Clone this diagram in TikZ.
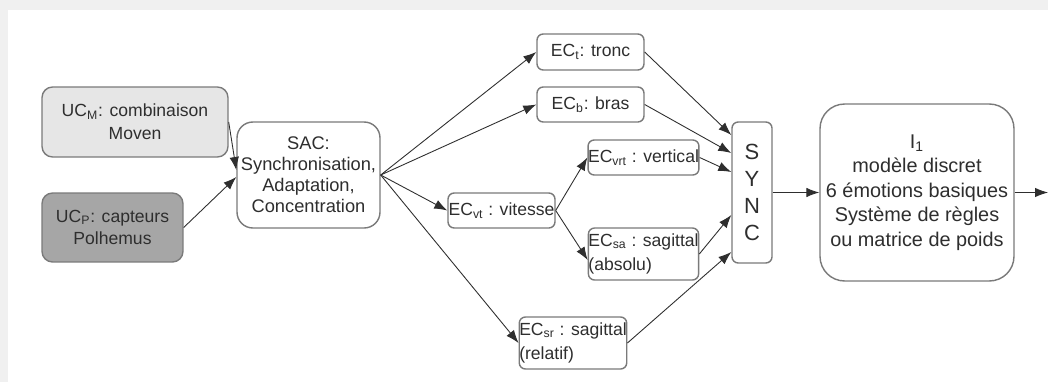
\documentclass[tikz,border=0pt]{standalone}
\usepackage{fontspec}
\setmainfont{Liberation Sans}
\usetikzlibrary{arrows.meta}
\definecolor{lightfill}{HTML}{E6E6E6}
\definecolor{darkfill}{HTML}{A6A6A6}
\definecolor{boxline}{HTML}{7A7A7A}
\definecolor{txt}{HTML}{2E2E2E}
\definecolor{edgebg}{HTML}{F0F0F0}

\begin{document}
\begin{tikzpicture}[x=0.02cm, y=-0.02cm, >={Latex[length=2.6mm,width=1.9mm]},
		bloc/.style={draw=boxline, line width=0.8pt, rounded corners=3.5pt, inner sep=0pt, text=txt, align=center},
		petit/.style={font=\fontsize{10}{12}\selectfont},
		fleche/.style={->, draw=txt, line width=0.5pt}]
	\useasboundingbox (0,0) rectangle (1048,382);
	\fill[edgebg] (0,0) rectangle (1048,382);
	\fill[white] (8,10) rectangle (1048,382);

	% sources
	\node[bloc, fill=lightfill, rounded corners=6pt, minimum width=3.72cm, minimum height=1.4cm, font=\fontsize{10}{13}\selectfont] (ucm) at (135,122) {UC\textsubscript{M}: combinaison\\Moven};
	\node[bloc, fill=darkfill, rounded corners=6pt, minimum width=2.82cm, minimum height=1.38cm, font=\fontsize{10}{13}\selectfont] (ucp) at (112.5,227.5) {UC\textsubscript{P}: capteurs\\Polhemus};
	\node[bloc, rounded corners=9pt, minimum width=2.86cm, minimum height=2.12cm, font=\fontsize{10.4}{12}\selectfont] (sac) at (308.5,175) {SAC:\\Synchronisation,\\Adaptation,\\Concentration};

	% extracteurs
	\node[bloc, petit, minimum width=2.14cm, minimum height=0.72cm] (ect) at (590.5,52) {EC\textsubscript{t}: tronc};
	\node[bloc, petit, minimum width=2.14cm, minimum height=0.7cm] (ecb) at (590.5,104.5) {EC\textsubscript{b}: bras};
	\node[bloc, petit, minimum width=2.14cm, minimum height=0.7cm] (ecvrt) at (643.5,157.5) {EC\textsubscript{vrt} : vertical};
	\node[bloc, petit, minimum width=2.14cm, minimum height=0.7cm] (ecvt) at (501.5,210.5) {EC\textsubscript{vt} : vitesse};
	\node[bloc, minimum width=2.14cm, minimum height=1.04cm, align=left, font=\fontsize{10}{14}\selectfont] (ecsa) at (643.5,254) {EC\textsubscript{sa} : sagittal\\(absolu)};
	\node[bloc, minimum width=2.12cm, minimum height=1.04cm, align=left, font=\fontsize{10}{14}\selectfont] (ecsr) at (573,343) {EC\textsubscript{sr} : sagittal\\(relatif)};

	% synchro et interpretation
	\node[bloc, minimum width=0.8cm, minimum height=2.82cm, font=\fontsize{12.5}{15.3}\selectfont] (sync) at (752,192.5) {S\\Y\\N\\C};
	\node[bloc, rounded corners=14pt, minimum width=3.88cm, minimum height=3.54cm, font=\fontsize{11.3}{14}\selectfont] (ione) at (917,192.5) {I\textsubscript{1}\\modèle discret\\6 émotions basiques\\Système de règles\\ou matrice de poids};
	\coordinate (sortie) at (1048,192.5);

	\draw [fleche] (ucm.east) to ([yshift=0.1cm]sac.west);
	\draw [fleche] (ucp.east) to ([yshift=-0.04cm]sac.west);
	\draw [fleche] (sac.east) to (ect.west);
	\draw [fleche] (sac.east) to (ecb.west);
	\draw [fleche] (sac.east) to (ecvt.west);
	\draw [fleche] (sac.east) to (ecsr.west);
	\draw [fleche] (ecvt.east) to (ecvrt.west);
	\draw [fleche] (ecvt.east) to ([yshift=-0.12cm]ecsa.west);
	\draw [fleche] (ect.east) to ([yshift=1.15cm]sync.west);
	\draw [fleche] (ecb.east) to ([yshift=0.79cm]sync.west);
	\draw [fleche] (ecvrt.east) to ([yshift=0.41cm]sync.west);
	\draw [fleche] (ecsa.east) to ([yshift=-0.45cm]sync.west);
	\draw [fleche] (ecsr.east) to ([yshift=-1.19cm]sync.west);
	\draw [fleche] (sync.east) to (ione.west);
	\draw [fleche] (ione.east) to (sortie);
\end{tikzpicture}
\end{document}
